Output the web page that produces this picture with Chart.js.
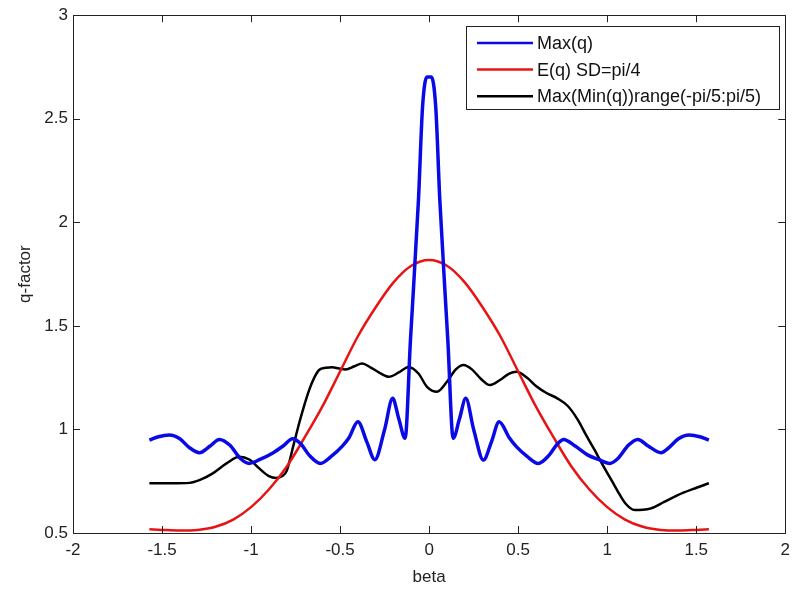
<!DOCTYPE html>
<html lang="en">
<head>
    <meta charset="UTF-8">
    <title>q-factor vs beta</title>
    <script src="https://cdn.jsdelivr.net/npm/chart.js@4.4.0/dist/chart.umd.min.js"></script>
    <style>
        html, body { margin: 0; padding: 0; background: #fff; }
        #wrap { width: 797px; height: 591px; }
    </style>
</head>
<body>
    <div id="wrap"><canvas id="qChart" width="797" height="591"></canvas></div>

    <script>
        // Series data
        const blueBeta = [-1.571, -1.52, -1.46, -1.40, -1.35, -1.29, -1.23, -1.178, -1.12, -1.06, -1.01, -0.95, -0.88, -0.82, -0.767, -0.72, -0.674, -0.61, -0.55, -0.49, -0.45, -0.40, -0.35, -0.305, -0.25, -0.205, -0.17, -0.135, -0.105, -0.06, -0.037, -0.012, 0.012, 0.037, 0.06, 0.105, 0.135, 0.17, 0.206, 0.25, 0.305, 0.35, 0.393, 0.45, 0.49, 0.55, 0.613, 0.674, 0.72, 0.755, 0.82, 0.892, 0.95, 1.014, 1.06, 1.12, 1.172, 1.23, 1.302, 1.35, 1.40, 1.461, 1.52, 1.571];
        const blueQ    = [0.949, 0.965, 0.973, 0.955, 0.915, 0.888, 0.920, 0.952, 0.925, 0.860, 0.836, 0.855, 0.885, 0.920, 0.955, 0.930, 0.876, 0.836, 0.870, 0.917, 0.960, 1.037, 0.940, 0.854, 1.000, 1.150, 1.050, 0.957, 1.430, 2.107, 2.557, 2.702, 2.702, 2.557, 2.107, 1.430, 0.957, 1.050, 1.150, 1.000, 0.852, 0.940, 1.037, 0.960, 0.917, 0.870, 0.836, 0.876, 0.930, 0.952, 0.920, 0.876, 0.855, 0.836, 0.860, 0.925, 0.952, 0.920, 0.888, 0.915, 0.955, 0.973, 0.965, 0.949];

        const redBeta = [-1.571, -1.5, -1.4, -1.3, -1.2, -1.1, -1.0, -0.9, -0.8, -0.7, -0.6, -0.5, -0.4, -0.3, -0.2, -0.1, 0, 0.1, 0.2, 0.3, 0.4, 0.5, 0.6, 0.7, 0.8, 0.9, 1.0, 1.1, 1.2, 1.3, 1.4, 1.5, 1.571];
        const redQ    = [0.518, 0.515, 0.512, 0.515, 0.530, 0.565, 0.625, 0.710, 0.820, 0.960, 1.110, 1.280, 1.450, 1.590, 1.710, 1.790, 1.818, 1.790, 1.710, 1.590, 1.450, 1.280, 1.110, 0.960, 0.820, 0.710, 0.625, 0.565, 0.530, 0.515, 0.512, 0.515, 0.518];

        const blackBeta = [-1.571, -1.45, -1.345, -1.29, -1.215, -1.14, -1.066, -1.01, -0.954, -0.90, -0.86, -0.824, -0.80, -0.76, -0.73, -0.70, -0.674, -0.645, -0.618, -0.58, -0.544, -0.506, -0.469, -0.42, -0.376, -0.33, -0.283, -0.227, -0.17, -0.115, -0.06, -0.012, 0.044, 0.10, 0.15, 0.193, 0.24, 0.29, 0.342, 0.40, 0.45, 0.491, 0.55, 0.60, 0.659, 0.72, 0.78, 0.836, 0.88, 0.929, 0.98, 1.023, 1.06, 1.10, 1.154, 1.20, 1.246, 1.32, 1.396, 1.48, 1.571];
        const blackQ    = [0.740, 0.740, 0.742, 0.755, 0.788, 0.835, 0.868, 0.855, 0.812, 0.775, 0.766, 0.775, 0.800, 0.930, 1.030, 1.120, 1.190, 1.250, 1.287, 1.298, 1.300, 1.294, 1.290, 1.305, 1.318, 1.300, 1.276, 1.254, 1.275, 1.302, 1.270, 1.206, 1.182, 1.230, 1.290, 1.311, 1.290, 1.245, 1.214, 1.240, 1.270, 1.278, 1.250, 1.210, 1.176, 1.150, 1.112, 1.045, 0.975, 0.901, 0.820, 0.756, 0.700, 0.645, 0.611, 0.612, 0.619, 0.650, 0.683, 0.712, 0.740];

        const xTickValues = [-2, -1.5, -1, -0.5, 0, 0.5, 1, 1.5, 2];
        const yTickValues = [0.5, 1, 1.5, 2, 2.5, 3];

        const seriesLabels = ['Max(q)', 'E(q) SD=pi/4', 'Max(Min(q))range(-pi/5:pi/5)'];

        function toPoints(xs, ys) {
            return xs.map((x, i) => ({ x: x, y: ys[i] }));
        }

        const FONT = 'Liberation Sans, Arial, sans-serif';

        // white page, box around the axes, inward ticks on all four sides
        const axesBox = {
            id: 'axesBox',
            beforeDraw(chart) {
                const ctx = chart.ctx;
                ctx.save();
                ctx.fillStyle = '#fff';
                ctx.fillRect(0, 0, chart.width, chart.height);
                ctx.restore();
            },
            afterDatasetsDraw(chart) {
                const { ctx, chartArea: a, scales } = chart;
                const len = 7;
                ctx.save();
                ctx.strokeStyle = '#222';
                ctx.lineWidth = 1;
                ctx.beginPath();
                xTickValues.forEach(v => {
                    const px = Math.round(scales.x.getPixelForValue(v)) + 0.5;
                    ctx.moveTo(px, a.bottom); ctx.lineTo(px, a.bottom - len);
                    ctx.moveTo(px, a.top); ctx.lineTo(px, a.top + len);
                });
                yTickValues.forEach(v => {
                    const py = Math.round(scales.y.getPixelForValue(v)) + 0.5;
                    ctx.moveTo(a.left, py); ctx.lineTo(a.left + len, py);
                    ctx.moveTo(a.right, py); ctx.lineTo(a.right - len, py);
                });
                ctx.stroke();
                ctx.strokeRect(Math.round(a.left) + 0.5, Math.round(a.top) + 0.5,
                               Math.round(a.right - a.left), Math.round(a.bottom - a.top));
                ctx.restore();
            },
            afterDraw(chart) {
                // boxed legend in the upper right corner
                const ctx = chart.ctx;
                const box = { x: 466.5, y: 26.5, w: 313, h: 83 };
                ctx.save();
                ctx.fillStyle = '#fff';
                ctx.fillRect(box.x, box.y, box.w, box.h);
                ctx.strokeStyle = '#222';
                ctx.lineWidth = 1;
                ctx.strokeRect(box.x, box.y, box.w, box.h);
                ctx.font = '18px ' + FONT;
                ctx.textBaseline = 'middle';
                ctx.textAlign = 'left';
                chart.data.datasets.forEach((ds, i) => {
                    const y = 43 + i * 26.6;
                    ctx.strokeStyle = ds.borderColor;
                    ctx.lineWidth = 2.5;
                    ctx.beginPath();
                    ctx.moveTo(477, y);
                    ctx.lineTo(533, y);
                    ctx.stroke();
                    ctx.fillStyle = '#111';
                    ctx.fillText(ds.label, 537, y + 1);
                });
                ctx.restore();
            }
        };

        new Chart(document.getElementById('qChart').getContext('2d'), {
            type: 'line',
            data: {
                datasets: [
                    {
                        label: seriesLabels[0],
                        data: toPoints(blueBeta, blueQ),
                        borderColor: '#0a0ae6',
                        borderWidth: 3.5
                    },
                    {
                        label: seriesLabels[1],
                        data: toPoints(redBeta, redQ),
                        borderColor: '#e81414',
                        borderWidth: 2.5
                    },
                    {
                        label: seriesLabels[2],
                        data: toPoints(blackBeta, blackQ),
                        borderColor: '#000000',
                        borderWidth: 2.5
                    }
                ]
            },
            options: {
                responsive: false,
                animation: false,
                devicePixelRatio: 1,
                layout: { padding: { top: 15, right: 9, left: 0, bottom: 0 } },
                elements: {
                    point: { radius: 0 },
                    line: { cubicInterpolationMode: 'monotone', fill: false }
                },
                plugins: {
                    legend: { display: false },
                    tooltip: { enabled: false }
                },
                scales: {
                    x: {
                        type: 'linear',
                        min: -2,
                        max: 2,
                        grid: { display: false, drawTicks: false },
                        border: { display: false },
                        afterBuildTicks: s => { s.ticks = xTickValues.map(v => ({ value: v })); },
                        afterFit: s => { s.height = 58; },
                        ticks: {
                            padding: 7,
                            color: '#222',
                            font: { family: FONT, size: 17 },
                            callback: v => String(v)
                        },
                        title: {
                            display: true,
                            text: 'beta',
                            color: '#222',
                            font: { family: FONT, size: 17 },
                            padding: { top: 0, bottom: 3 }
                        }
                    },
                    y: {
                        type: 'linear',
                        min: 0.5,
                        max: 3,
                        grid: { display: false, drawTicks: false },
                        border: { display: false },
                        afterBuildTicks: s => { s.ticks = yTickValues.map(v => ({ value: v })); },
                        afterFit: s => { s.width = 73; },
                        ticks: {
                            padding: 5,
                            color: '#222',
                            font: { family: FONT, size: 17 },
                            callback: v => String(v)
                        },
                        title: {
                            display: true,
                            text: 'q-factor',
                            color: '#222',
                            font: { family: FONT, size: 17 },
                            padding: { top: 15, bottom: 0 }
                        }
                    }
                }
            },
            plugins: [axesBox]
        });
    </script>
</body>
</html>
